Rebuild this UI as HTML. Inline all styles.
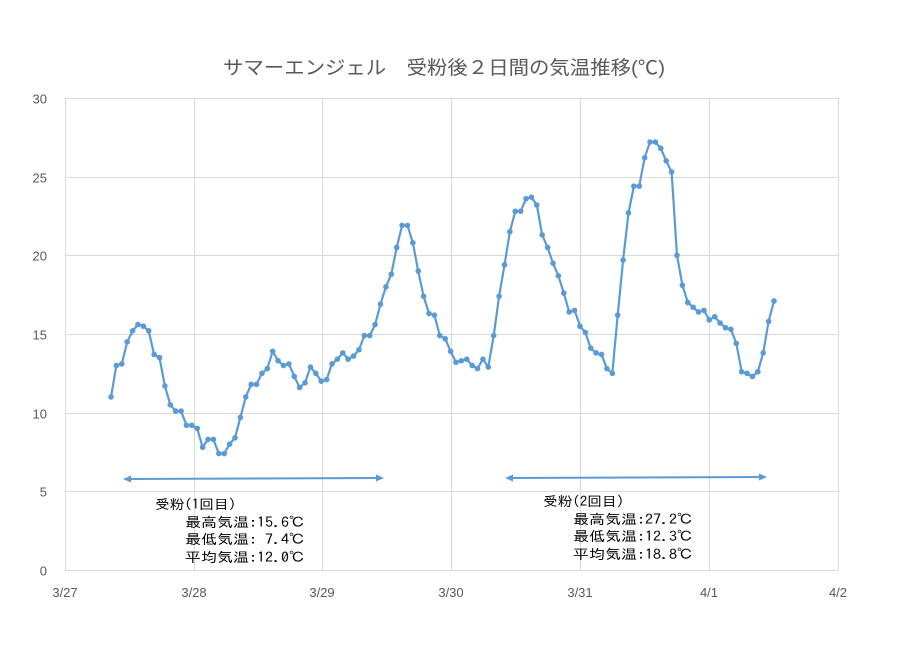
<!DOCTYPE html>
<html><head><meta charset="utf-8"><style>
body{margin:0;background:#fff;}
svg{display:block;font-family:"Liberation Sans","Noto Sans CJK JP",sans-serif;}
</style></head><body>
<svg id="s" width="903" height="651" xmlns="http://www.w3.org/2000/svg">
<rect width="903" height="651" fill="#fff"/>
<g id="grid" stroke="#d9d9d9" stroke-width="1"></g>
<text x="444" y="74" text-anchor="middle" font-size="19" fill="#595959" textLength="442" lengthAdjust="spacingAndGlyphs">サマーエンジェル　受粉後２日間の気温推移(℃)</text>
<g id="yl" font-size="13" fill="#595959" text-anchor="end"></g>
<g id="xl" font-size="13" fill="#595959" text-anchor="middle"></g>
<path id="ln" fill="none" stroke="#5b9bd5" stroke-width="2.2" stroke-linejoin="round"/>
<g id="pts" fill="#5b9bd5"></g>
<g stroke="#5b9bd5" stroke-width="2" fill="#5b9bd5">
<line x1="126" y1="479" x2="380" y2="478"/>
<polygon points="123,479 131,475.5 131,482.5" stroke="none"/>
<polygon points="384,478 376,474.5 376,481.5" stroke="none"/>
<line x1="508" y1="478" x2="763" y2="477"/>
<polygon points="505,478 513,474.5 513,481.5" stroke="none"/>
<polygon points="767,477 759,473.5 759,480.5" stroke="none"/>
</g>
<g font-size="13.5" fill="#000" style="font-family:'IPAGothic','Noto Sans CJK JP',sans-serif" lengthAdjust="spacingAndGlyphs">
<text x="155" y="509" textLength="81" lengthAdjust="spacingAndGlyphs">受粉(1回目)</text>
<text x="185" y="527" textLength="120" lengthAdjust="spacingAndGlyphs">最高気温:15.6℃</text>
<text x="185" y="544" textLength="120" lengthAdjust="spacingAndGlyphs">最低気温: 7.4℃</text>
<text x="185" y="562" textLength="120" lengthAdjust="spacingAndGlyphs">平均気温:12.0℃</text>
<text x="543" y="506" textLength="81" lengthAdjust="spacingAndGlyphs">受粉(2回目)</text>
<text x="573" y="524" textLength="120" lengthAdjust="spacingAndGlyphs">最高気温:27.2℃</text>
<text x="573" y="541" textLength="120" lengthAdjust="spacingAndGlyphs">最低気温:12.3℃</text>
<text x="573" y="559" textLength="120" lengthAdjust="spacingAndGlyphs">平均気温:18.8℃</text>
</g>
</svg>
<script>
var ns="http://www.w3.org/2000/svg";
function el(t,a,p){var e=document.createElementNS(ns,t);for(var k in a)e.setAttribute(k,a[k]);document.getElementById(p).appendChild(e);return e;}
var xs=[65,194,322,451,580,709,838],xl=["3/27","3/28","3/29","3/30","3/31","4/1","4/2"];
for(var i=0;i<7;i++){el("line",{x1:xs[i]+.5,x2:xs[i]+.5,y1:98,y2:570},"grid");var t=el("text",{x:xs[i],y:597},"xl");t.textContent=xl[i];}
for(var v=0;v<=30;v+=5){var y=Math.round(570-v*15.733)+.5;el("line",{x1:65,x2:838,y1:y,y2:y},"grid");var t=el("text",{x:47,y:y+5},"yl");t.textContent=v;}
var d=[11.0,13.0,13.1,14.5,15.2,15.6,15.5,15.2,13.7,13.5,11.7,10.5,10.1,10.1,9.2,9.2,9.0,7.8,8.3,8.3,7.4,7.4,8.0,8.4,9.7,11.0,11.8,11.8,12.5,12.8,13.9,13.3,13.0,13.1,12.3,11.6,11.9,12.9,12.5,12.0,12.1,13.1,13.4,13.8,13.4,13.6,14.0,14.9,14.9,15.6,16.9,18.0,18.8,20.5,21.9,21.9,20.8,19.0,17.4,16.3,16.2,14.9,14.7,13.9,13.2,13.3,13.4,13.0,12.8,13.4,12.9,14.9,17.4,19.4,21.5,22.8,22.8,23.6,23.7,23.2,21.3,20.5,19.5,18.7,17.6,16.4,16.5,15.5,15.1,14.1,13.8,13.7,12.8,12.5,16.2,19.7,22.7,24.4,24.4,26.2,27.2,27.2,26.8,26.0,25.3,20.0,18.1,17.0,16.7,16.4,16.5,15.9,16.1,15.7,15.4,15.3,14.4,12.6,12.5,12.3,12.6,13.8,15.8,17.1];
var p="",n=d.length;
for(var i=0;i<n;i++){var x=111+i*(774-111)/(n-1),y=570-d[i]*15.733;p+=(i?"L":"M")+x.toFixed(1)+","+y.toFixed(1);el("circle",{cx:x,cy:y,r:2.8},"pts");}
document.getElementById("ln").setAttribute("d",p);
</script>
</body></html>
